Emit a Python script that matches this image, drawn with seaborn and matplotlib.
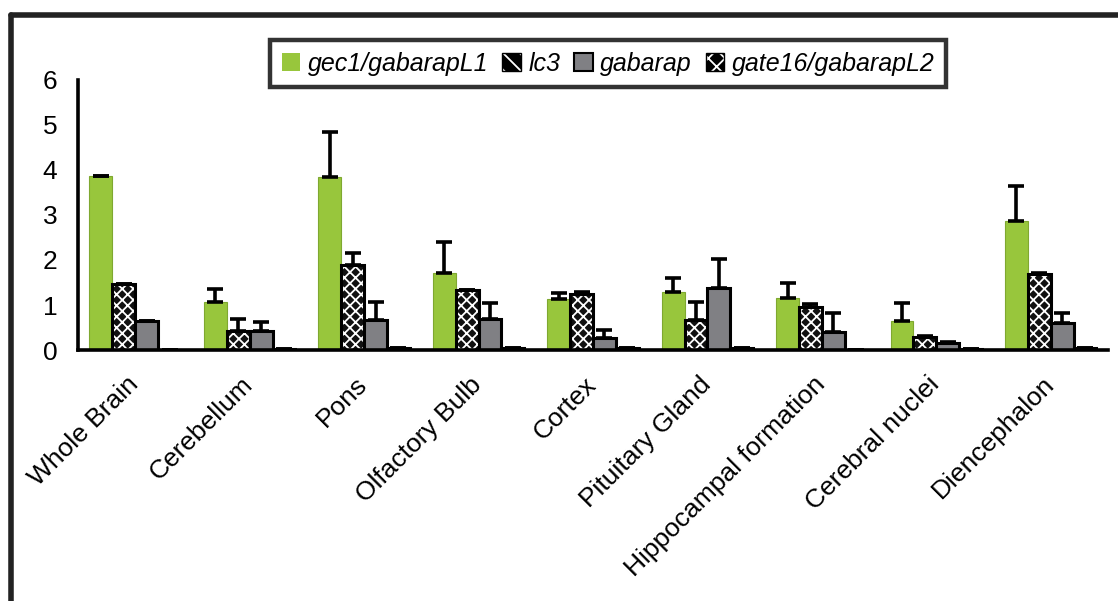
import seaborn as sns
import matplotlib.pyplot as plt
import matplotlib.colors as mcolors
from matplotlib.patches import Patch
from matplotlib.lines import Line2D
from matplotlib.transforms import ScaledTranslation
import numpy as np
import pandas as pd

# Data
regions = ['Whole Brain', 'Cerebellum', 'Pons', 'Olfactory Bulb', 'Cortex',
           'Pituitary Gland', 'Hippocampal formation', 'Cerebral nuclei', 'Diencephalon']
genes = ['gec1/gabarapL1', 'lc3', 'gabarap', 'gate16/gabarapL2']

gec1 = [3.87, 1.07, 3.84, 1.71, 1.13, 1.29, 1.15, 0.64, 2.87]
gec1_err = [0.0, 0.29, 1.01, 0.69, 0.14, 0.32, 0.33, 0.41, 0.78]
lc3 = [1.47, 0.42, 1.89, 1.33, 1.25, 0.67, 0.95, 0.29, 1.69]
lc3_err = [0.0, 0.27, 0.26, 0.0, 0.03, 0.40, 0.08, 0.02, 0.03]
gabarap = [0.64, 0.42, 0.67, 0.69, 0.27, 1.37, 0.40, 0.15, 0.60]
gabarap_err = [0.0, 0.20, 0.40, 0.35, 0.17, 0.66, 0.42, 0.02, 0.22]
gate16 = [0.0, 0.02, 0.04, 0.04, 0.04, 0.05, 0.0, 0.03, 0.04]
gate16_err = [0.0] * 9

colors = ['#98C63C', '#111111', '#808084', '#111111']

df = pd.DataFrame({
    'region': regions * 4,
    'gene': np.repeat(genes, len(regions)),
    'value': gec1 + lc3 + gabarap + gate16,
    'err': gec1_err + lc3_err + gabarap_err + gate16_err,
})

sns.set_style('white')
plt.rcParams['font.family'] = ['Liberation Sans', 'DejaVu Sans']
plt.rcParams['text.color'] = 'black'
plt.rcParams['xtick.color'] = 'black'
plt.rcParams['ytick.color'] = 'black'
plt.rcParams['hatch.linewidth'] = 1.3

fig = plt.figure(figsize=(11.18, 6.01), dpi=100)
ax = fig.add_axes([0.0698, 0.4176, 0.9212, 0.4494])

sns.barplot(data=df, x='region', y='value', hue='gene', hue_order=genes,
            palette=colors, saturation=1, width=0.8, errorbar=None,
            legend=False, ax=ax)

white = mcolors.to_rgba('white')
bars = ax.patches
n = len(regions)
for i, p in enumerate(bars):
    k = i // n
    if k == 0:
        p.set_edgecolor('#7FA830')
        p.set_linewidth(0.8)
    else:
        p.set_edgecolor('black')
        p.set_linewidth(2.2)
    if k in (1, 3):
        p.set_hatch('xxx')
        p._hatch_color = white

# error bars (upper side only)
xs = [p.get_x() + p.get_width() / 2 for p in bars]
ys = [p.get_height() for p in bars]
errs = df['err'].tolist()
ax.errorbar(xs, ys, yerr=[np.zeros(len(errs)), errs], fmt='none',
            ecolor='black', elinewidth=2.6, capsize=6, capthick=2.6, zorder=5)

# axes styling
ax.set_ylim(0, 6)
ax.set_xlim(-0.5, len(regions) - 0.5)
ax.set_yticks(range(0, 7))
ax.set_xlabel('')
ax.set_ylabel('')
ax.set_xticks(np.arange(-0.5, len(regions), 1), minor=True)
ax.tick_params(axis='x', which='major', length=0, pad=16, labelsize=19)
ax.tick_params(axis='x', which='minor', length=8, width=2.4, direction='out')
ax.tick_params(axis='y', length=8, width=2.4, direction='out', labelsize=19, pad=7)
ax.set_xticks(range(len(regions)))
ax.set_xticklabels(regions, rotation=45, ha='right', va='top', rotation_mode='anchor')
shift = ScaledTranslation(-9 / 100, 0, fig.dpi_scale_trans)
for lab in ax.get_xticklabels():
    lab.set_transform(lab.get_transform() + shift)
for s in ['top', 'right']:
    ax.spines[s].set_visible(False)
for s in ['left', 'bottom']:
    ax.spines[s].set_color('black')
    ax.spines[s].set_linewidth(2.6)
ax.spines['left'].set_bounds(0, 6)

# legend
handles = [Patch(facecolor=colors[0], edgecolor='none'),
           Patch(facecolor='black', edgecolor='black', hatch='\\\\'),
           Patch(facecolor=colors[2], edgecolor='black', linewidth=1.5),
           Patch(facecolor='black', edgecolor='black', hatch='xx')]
leg = fig.legend(handles, genes, loc='center', bbox_to_anchor=(0.544, 0.894),
                 ncol=4, frameon=True, fancybox=False, handlelength=0.75,
                 handleheight=0.75, handletextpad=0.3, columnspacing=0.55,
                 borderpad=0.45, prop={'style': 'italic', 'size': 18})
leg.get_frame().set_edgecolor('black')
leg.get_frame().set_linewidth(3.2)
for i, p in enumerate(leg.get_patches()):
    if i in (1, 3):
        p._hatch_color = white

# outer frame lines
fig.add_artist(Line2D([0.0094, 1.0], [0.975, 0.975], transform=fig.transFigure,
                      color='#222222', linewidth=4))
fig.add_artist(Line2D([0.0094, 0.0094], [0.0, 0.975], transform=fig.transFigure,
                      color='#222222', linewidth=4))

plt.savefig('out.png', dpi=100)
